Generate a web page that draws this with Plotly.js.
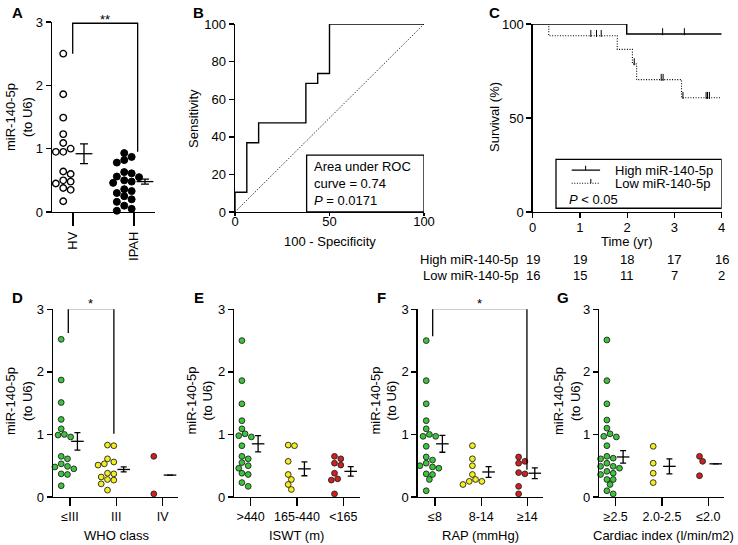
<!DOCTYPE html>
<html>
<head>
<meta charset="utf-8">
<script src="https://cdn.plot.ly/plotly-3.0.1.min.js"></script>
<style>html,body{margin:0;padding:0;background:#fff}#chart{width:738px;height:545px}</style>
</head>
<body>
<div id="chart"></div>
<script>
// ================= DATA =================
// Panel A
const aCategories = ['HV', 'IPAH'];
const aHV = [2.50, 1.86, 1.49, 1.23, 1.09, 1.00, 0.95, 0.95, 0.64, 0.60, 0.50, 0.48, 0.45, 0.38, 0.35, 0.17];
const aIPAH = [0.93, 0.87, 0.82, 0.78, 0.63, 0.61, 0.56, 0.55, 0.50, 0.48, 0.46, 0.36, 0.33, 0.30, 0.25, 0.20, 0.16, 0.10, 0.05, 0.02];
const aMean = [0.92, 0.48];
const aSEM = [0.155, 0.04];

// Panel B (ROC)
const rocFPR = [0, 0, 6.25, 12.5, 37.5, 43.75, 50, 100];
const rocTPR = [0, 10.5, 36.8, 47.4, 68.4, 73.7, 100, 100];
const rocAUC = '0.74';
const rocP = '0.0171';

// Panel C (Kaplan-Meier)
const kmTicks = [0, 1, 2, 3, 4];
const kmEnd = 4;
const highEventTimes = [1.99];
const highSurvAfter = [94.7];
const highCensored = [1.32, 2.75, 3.21];
const lowEventTimes = [0.34, 1.79, 2.11, 2.20, 3.15];
const lowSurvAfter = [93.75, 86.5, 78.7, 70.4, 60.8];
const lowCensored = [1.23, 1.35, 1.45, 2.15, 2.72, 2.76, 3.18, 3.67, 3.70, 3.74];
const riskHigh = [19, 19, 18, 17, 16];
const riskLow = [16, 15, 11, 7, 2];

// Panel D (WHO class)
const dCategories = ['≤III', 'III', 'IV'];
const dGreen = [2.52, 1.87, 1.51, 1.24, 1.09, 1.00, 0.99, 0.96, 0.93, 0.65, 0.61, 0.53, 0.49, 0.48, 0.45, 0.37, 0.36, 0.18];
const dYellow = [0.83, 0.82, 0.61, 0.56, 0.53, 0.51, 0.38, 0.37, 0.32, 0.28, 0.27, 0.21, 0.11];
const dRed = [0.65, 0.05];
const dMean = [0.89, 0.44, 0.35];
const dSEM = [0.14, 0.04, 0];

// Panel E (ISWT)
const eCategories = ['&gt;440', '165-440', '&lt;165'];
const eGreen = [2.50, 1.86, 1.49, 1.22, 1.09, 1.01, 0.98, 0.96, 0.82, 0.65, 0.61, 0.55, 0.50, 0.46, 0.45, 0.38, 0.36, 0.23, 0.17];
const eYellow = [0.83, 0.82, 0.57, 0.36, 0.28, 0.20, 0.12];
const eRed = [0.65, 0.61, 0.54, 0.51, 0.38, 0.29, 0.27, 0.05];
const eMean = [0.85, 0.45, 0.41];
const eSEM = [0.13, 0.11, 0.075];

// Panel F (RAP)
const fCategories = ['≤8', '8-14', '≥14'];
const fGreen = [2.50, 1.86, 1.49, 1.22, 1.09, 1.00, 0.97, 0.97, 0.95, 0.81, 0.64, 0.59, 0.54, 0.50, 0.48, 0.46, 0.45, 0.37, 0.36, 0.28, 0.10];
const fYellow = [0.82, 0.61, 0.50, 0.36, 0.28, 0.25, 0.25, 0.20];
const fRed = [0.64, 0.57, 0.54, 0.39, 0.37, 0.17, 0.05];
const fMean = [0.85, 0.40, 0.38];
const fSEM = [0.135, 0.085, 0.085];

// Panel G (Cardiac index)
const gCategories = ['≥2.5', '2.0-2.5', '≤2.0'];
const gGreen = [2.51, 1.86, 1.49, 1.23, 1.10, 1.01, 0.97, 0.96, 0.82, 0.65, 0.62, 0.61, 0.54, 0.49, 0.49, 0.46, 0.41, 0.38, 0.36, 0.28, 0.28, 0.20, 0.10, 0.05];
const gYellow = [0.81, 0.54, 0.38, 0.23];
const gRed = [0.65, 0.57, 0.34];
const gMean = [0.64, 0.49, 0.53];
const gSEM = [0.1, 0.12, 0];

// ================= HELPERS =================
const W = 738, H = 545;
const px = v => v / W;
const py = v => 1 - v / H;
const FONT = 'Liberation Sans, Arial, Helvetica, sans-serif';
const GREEN = '#3cc43c', YELLOW = '#f3ee1c', RED = '#d11f1f';
const FINE_DOT = '1px,1.6px';

function axis(extra) {
  return Object.assign({
    showline: true, linecolor: '#000', linewidth: 1.4,
    ticks: 'outside', tickcolor: '#000', tickwidth: 1.4, ticklen: 5,
    showgrid: false, zeroline: false, fixedrange: true,
    tickfont: { family: FONT, size: 13, color: '#000' }
  }, extra);
}

// simple beeswarm: returns pixel offsets
function swarm(vals, pxPerY, diam) {
  const order = vals.map((v, i) => i).sort((a, b) => vals[b] - vals[a]);
  const placed = [];
  const off = new Array(vals.length).fill(0);
  for (const i of order) {
    const y = vals[i] * pxPerY;
    const cands = [0];
    for (let k = 1; k < 20; k++) { cands.push(k * diam * 0.5, -k * diam * 0.5); }
    for (const c of cands) {
      if (placed.every(p => Math.hypot(p.x - c, p.y - y) >= diam * 0.92)) {
        off[i] = c; placed.push({ x: c, y: y }); break;
      }
    }
  }
  return off;
}

const traces = [];
const shapes = [];
const annotations = [];

function ann(text, x, y, opt) {
  annotations.push(Object.assign({
    text: text, x: x, y: y, xref: 'paper', yref: 'paper', showarrow: false,
    xanchor: 'center', yanchor: 'middle',
    font: { family: FONT, size: 13, color: '#000' }
  }, opt || {}));
}

function meanSem(xref, yref, xs, means, sems, size, capw) {
  traces.push({
    type: 'scatter', mode: 'markers', x: xs, y: means, xaxis: xref, yaxis: yref,
    cliponaxis: false, hoverinfo: 'skip',
    marker: { symbol: 'line-ew', size: size, color: '#000', line: { color: '#000', width: 1.3 } },
    error_y: { type: 'data', array: sems, visible: true, color: '#000', thickness: 1.3, width: capw }
  });
}

const layout = {
  width: W, height: H, showlegend: false,
  margin: { l: 0, r: 0, t: 0, b: 0, pad: 0 },
  paper_bgcolor: '#fff', plot_bgcolor: 'rgba(0,0,0,0)',
  font: { family: FONT, size: 13, color: '#000' },
  shapes: shapes, annotations: annotations
};

// ================= PANEL A =================
{
  const left = 52, right = 155, tick1 = 73, sp = 61;
  layout.xaxis = axis({ domain: [px(left), px(right)], range: [1 - (tick1 - left) / sp, 2 + (right - tick1 - sp) / sp],
    tickvals: [1, 2], ticktext: aCategories, tickangle: -90, ticklen: 13, anchor: 'y' });
  layout.yaxis = axis({ domain: [py(212), py(22)], range: [0, 3], tickvals: [0, 1, 2, 3], anchor: 'x' });
  const pxY = (212 - 22) / 3;
  [aHV, aIPAH].forEach((vals, g) => {
    const off = swarm(vals, pxY, 7.4);
    traces.push({
      type: 'scatter', mode: 'markers', xaxis: 'x', yaxis: 'y', cliponaxis: false, hoverinfo: 'skip',
      x: vals.map((v, i) => (g + 1) - 0.16 + off[i] / sp), y: vals,
      marker: g === 0 ? { size: 6.5, color: '#fff', line: { color: '#000', width: 1.4 } }
                      : { size: 7, color: '#000', line: { color: '#000', width: 1 } }
    });
  });
  meanSem('x', 'y', [1.18, 2.18], aMean, aSEM, 12, 4);
  shapes.push({ type: 'path', xref: 'x', yref: 'y', path: 'M 0.995,2.5 V 2.98 H 2.06 V 0.95',
    line: { color: '#000', width: 1.3 } });
  annotations.push({ text: '**', x: 1.52, y: py(19.5), xref: 'x', yref: 'paper', showarrow: false,
    font: { family: FONT, size: 13, color: '#000' }, yanchor: 'middle' });
  ann('miR-140-5p<br>(to U6)', px(19), py(117), { textangle: -90 });
  ann('<b>A</b>', px(17.5), py(12), { font: { family: FONT, size: 15, color: '#000' } });
}

// ================= PANEL B =================
{
  layout.xaxis2 = axis({ domain: [px(235), px(424)], range: [0, 100], tickvals: [0, 50, 100], ticklen: 3,
    ticklabelstandoff: -6, anchor: 'y2' });
  layout.yaxis2 = axis({ domain: [py(212), py(24)], range: [0, 100], tickvals: [0, 20, 40, 60, 80, 100], anchor: 'x2' });
  shapes.push({ type: 'line', xref: 'x2', yref: 'y2', x0: 0, y0: 0, x1: 100, y1: 100,
    line: { color: '#000', width: 1, dash: FINE_DOT } });
  traces.push({ type: 'scatter', mode: 'lines', xaxis: 'x2', yaxis: 'y2', cliponaxis: false, hoverinfo: 'skip',
    x: rocFPR, y: rocTPR, line: { color: '#000', width: 1.4, shape: 'hv' } });
  shapes.push({ type: 'rect', xref: 'x2', yref: 'y2', x0: 37.9, x1: 100, y0: 0, y1: 30.3,
    line: { color: '#000', width: 1.3 }, fillcolor: 'rgba(0,0,0,0)' });
  annotations.push({ text: 'Area under ROC<br>curve = ' + rocAUC + '<br><i>P</i> = ' + rocP,
    x: 40.8, y: 15.3, xref: 'x2', yref: 'y2', showarrow: false, xanchor: 'left', yanchor: 'middle', align: 'left',
    font: { family: FONT, size: 13, color: '#000' } });
  ann('Sensitivity', px(193), py(118), { textangle: -90 });
  ann('100 - Specificity', px(330), py(241.5));
  ann('<b>B</b>', px(198), py(12), { font: { family: FONT, size: 15, color: '#000' } });
}

// ================= PANEL C =================
{
  layout.xaxis3 = axis({ domain: [px(532.7), px(721.7)], range: [0, kmEnd], tickvals: kmTicks, ticklen: 5,
    ticklabelstandoff: -2, anchor: 'y3' });
  layout.yaxis3 = axis({ domain: [py(212), py(24)], range: [0, 100], tickvals: [0, 50, 100], anchor: 'x3' });
  function survAt(times, surv, t) { let s = 100; times.forEach((tt, i) => { if (tt <= t) s = surv[i]; }); return s; }
  function kmTrace(times, surv, cens, dotted) {
    traces.push({ type: 'scatter', mode: 'lines', xaxis: 'x3', yaxis: 'y3', cliponaxis: false, hoverinfo: 'skip',
      x: [0].concat(times, [kmEnd]), y: [100].concat(surv, [surv[surv.length - 1]]),
      line: { color: '#000', width: dotted ? 1.1 : 1.4, shape: 'hv', dash: dotted ? FINE_DOT : 'solid' } });
    traces.push({ type: 'scatter', mode: 'markers', xaxis: 'x3', yaxis: 'y3', cliponaxis: false, hoverinfo: 'skip',
      x: cens, y: cens.map(t => survAt(times, surv, t) + 1.2),
      marker: { symbol: 'line-ns', size: 5, color: '#000', line: { color: '#000', width: 1 } } });
  }
  kmTrace(highEventTimes, highSurvAfter, highCensored, false);
  kmTrace(lowEventTimes, lowSurvAfter, lowCensored, true);
  // legend box
  shapes.push({ type: 'rect', xref: 'x3', yref: 'y3', x0: 0.493, x1: 4, y0: 2.0, y1: 28,
    line: { color: '#000', width: 1.3 }, fillcolor: 'rgba(0,0,0,0)' });
  shapes.push({ type: 'line', xref: 'x3', yref: 'y3', x0: 0.825, x1: 1.426, y0: 22.3, y1: 22.3, line: { color: '#000', width: 1.4 } });
  shapes.push({ type: 'line', xref: 'x3', yref: 'y3', x0: 1.12, x1: 1.12, y0: 22.3, y1: 24.6, line: { color: '#000', width: 1 } });
  shapes.push({ type: 'line', xref: 'x3', yref: 'y3', x0: 0.825, x1: 1.426, y0: 15.3, y1: 15.3, line: { color: '#000', width: 1.1, dash: FINE_DOT } });
  shapes.push({ type: 'line', xref: 'x3', yref: 'y3', x0: 1.23, x1: 1.23, y0: 15.3, y1: 17.6, line: { color: '#000', width: 1 } });
  annotations.push({ text: 'High miR-140-5p', x: 1.69, y: 22.3, xref: 'x3', yref: 'y3', showarrow: false,
    xanchor: 'left', yanchor: 'middle', font: { family: FONT, size: 13, color: '#000' } });
  annotations.push({ text: 'Low miR-140-5p', x: 1.69, y: 15.3, xref: 'x3', yref: 'y3', showarrow: false,
    xanchor: 'left', yanchor: 'middle', font: { family: FONT, size: 13, color: '#000' } });
  annotations.push({ text: '<i>P</i> &lt; 0.05', x: 0.72, y: 6.9, xref: 'x3', yref: 'y3', showarrow: false,
    xanchor: 'left', yanchor: 'middle', font: { family: FONT, size: 13, color: '#000' } });
  ann('Survival (%)', px(495), py(117), { textangle: -90 });
  ann('Time (yr)', px(626.7), py(241.5));
  ann('<b>C</b>', px(494), py(12), { font: { family: FONT, size: 15, color: '#000' } });
  // number at risk
  ann('High miR-140-5p', px(519.5), py(259.3), { xanchor: 'right' });
  ann('Low miR-140-5p', px(519.5), py(275.3), { xanchor: 'right' });
  kmTicks.forEach((t, i) => {
    annotations.push({ text: String(riskHigh[i]), x: t, y: py(259.3), xref: 'x3', yref: 'paper', showarrow: false,
      xanchor: 'center', yanchor: 'middle', font: { family: FONT, size: 13, color: '#000' } });
    annotations.push({ text: String(riskLow[i]), x: t, y: py(275.3), xref: 'x3', yref: 'paper', showarrow: false,
      xanchor: 'center', yanchor: 'middle', font: { family: FONT, size: 13, color: '#000' } });
  });
}

// ================= PANELS D-G =================
const bottomPanels = [
  { id: 4, label: 'D', cats: dCategories, groups: [dGreen, dYellow, dRed], mean: dMean, sem: dSEM,
    left: 53, tick1: 70, sp: 46.3, right: 178, xtitle: 'WHO class', titleX: 116.7, ytX: 19, labelX: 17.3,
    bracket: { path: 'M 0.963,2.62 V 3.01 H 1.948 V 1.01', starX: 1.45 } },
  { id: 5, label: 'E', cats: eCategories, groups: [eGreen, eYellow, eRed], mean: eMean, sem: eSEM,
    left: 234.3, tick1: 250.7, sp: 46.3, right: 360, xtitle: 'ISWT (m)', titleX: 296.7, ytX: 199.5, labelX: 199 },
  { id: 6, label: 'F', cats: fCategories, groups: [fGreen, fYellow, fRed], mean: fMean, sem: fSEM,
    left: 417.7, tick1: 435, sp: 46.2, right: 543.3, xtitle: 'RAP (mmHg)', titleX: 480, ytX: 383.5, labelX: 381.7,
    bracket: { path: 'M 0.95,2.57 V 3.01 H 2.99 V 0.435', starX: 1.96 } },
  { id: 7, label: 'G', cats: gCategories, groups: [gGreen, gYellow, gRed], mean: gMean, sem: gSEM,
    left: 599.3, tick1: 615.7, sp: 46.3, right: 724, xtitle: 'Cardiac index (l/min/m2)', titleX: 663.3, ytX: 567, labelX: 563 }
];
const COLORS = [GREEN, YELLOW, RED];
bottomPanels.forEach(p => {
  const xa = 'x' + p.id, ya = 'y' + p.id;
  layout['xaxis' + p.id] = axis({ domain: [px(p.left), px(p.right)],
    range: [1 - (p.tick1 - p.left) / p.sp, 1 + (p.right - p.tick1) / p.sp],
    tickvals: [1, 2, 3], ticktext: p.cats, ticklen: 8, anchor: ya,
    tickfont: { family: FONT, size: 12.5, color: '#000' } });
  layout['yaxis' + p.id] = axis({ domain: [py(497), py(309.3)], range: [0, 3], tickvals: [0, 1, 2, 3], anchor: xa });
  const pxY = (497 - 309.3) / 3;
  p.groups.forEach((vals, g) => {
    const off = swarm(vals, pxY, 6.3);
    traces.push({ type: 'scatter', mode: 'markers', xaxis: xa, yaxis: ya, cliponaxis: false, hoverinfo: 'skip',
      x: vals.map((v, i) => (g + 1) - 0.19 + off[i] / p.sp), y: vals,
      marker: { size: 5.8, color: COLORS[g], line: { color: '#222', width: 0.9 } } });
  });
  meanSem(xa, ya, [1.16, 2.16, 3.16], p.mean, p.sem, 9, 3);
  if (p.bracket) {
    shapes.push({ type: 'path', xref: xa, yref: ya, path: p.bracket.path, line: { color: '#000', width: 1.3 } });
    annotations.push({ text: '*', x: p.bracket.starX, y: py(303), xref: xa, yref: 'paper', showarrow: false,
      yanchor: 'middle', font: { family: FONT, size: 13, color: '#000' } });
  }
  ann('miR-140-5p<br>(to U6)', px(p.ytX), py(401), { textangle: -90 });
  ann(p.xtitle, px(p.titleX), py(535));
  ann('<b>' + p.label + '</b>', px(p.labelX), py(297), { font: { family: FONT, size: 15, color: '#000' } });
});

Plotly.newPlot('chart', traces, layout, { displayModeBar: false, staticPlot: true });
</script>
</body>
</html>
